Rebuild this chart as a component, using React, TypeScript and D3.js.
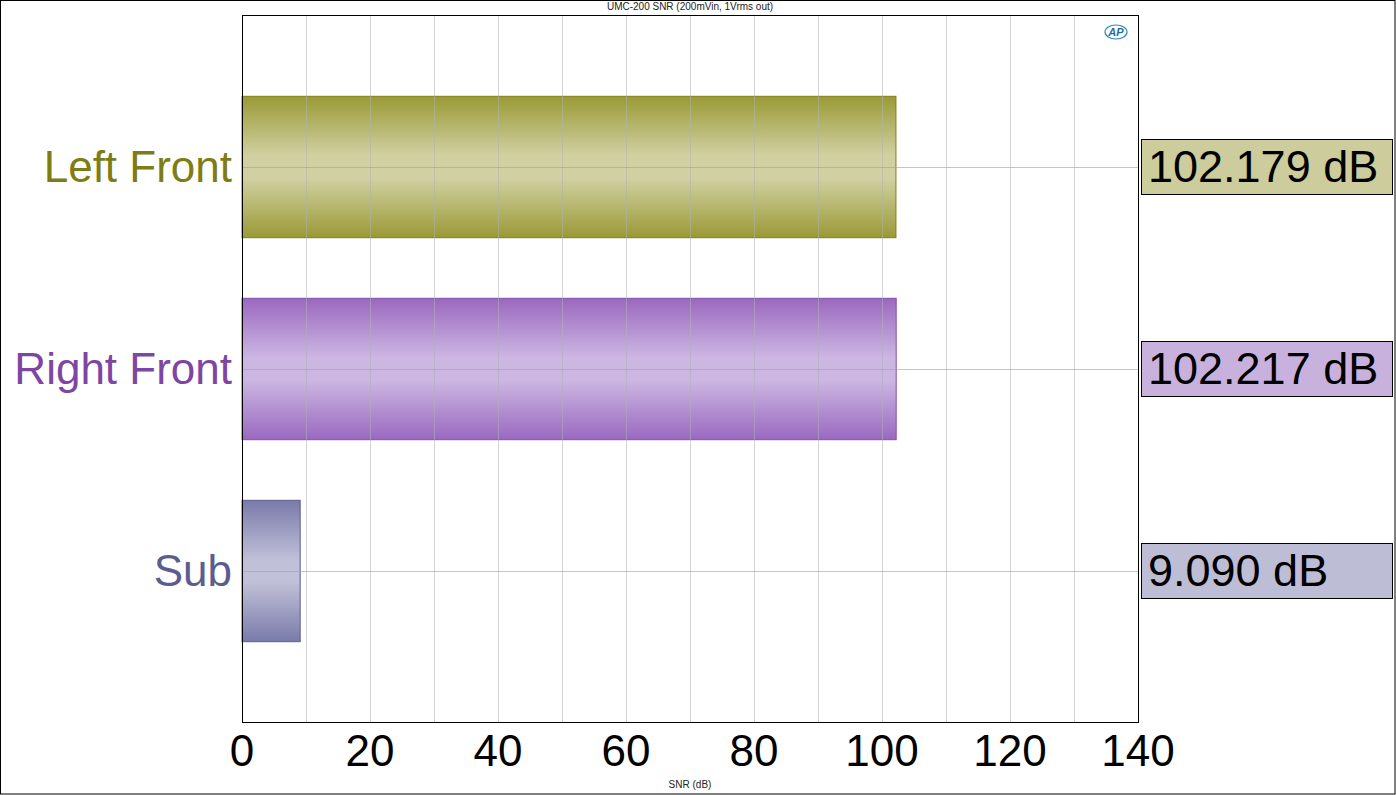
import React from "react";
import * as d3 from "d3";

const categories = ["Left Front", "Right Front", "Sub"];
const values = [102.179, 102.217, 9.09];
const valueLabels = ["102.179 dB", "102.217 dB", "9.090 dB"];
const xTicks = [0, 20, 40, 60, 80, 100, 120, 140];
const minorTicks = [10, 30, 50, 70, 90, 110, 130];
const title = "UMC-200 SNR (200mVin, 1Vrms out)";
const xLabel = "SNR (dB)";

const labelColors = ["#7d7d14", "#7f45a3", "#5c5c8e"];
const edgeColors = ["#9a9a36", "#9a68c0", "#7a7aaa"];
const midColors = ["#d0d0a2", "#ccb6e2", "#c0c0d8"];
const strokeColors = ["#7f7f1a", "#8050a8", "#5e5e8a"];
const boxColors = ["#cccc9c", "#c9b1de", "#bdbdd5"];

export default function App() {
  const W = 1396, H = 795;
  const left = 242, right = 1138, top = 15, bottom = 722;
  const x = d3.scaleLinear().domain([0, 140]).range([left, right]);
  const y = d3.scalePoint<string>().domain(categories).range([167, 571]);
  const barH = y.step() * 0.7;
  const font = "Arial, 'Liberation Sans', sans-serif";
  const big = 44;

  return (
    <svg width={W} height={H} style={{ position: "absolute", left: 0, top: 0, background: "#fff" }} fontFamily={font}>
      <defs>
        {categories.map((c, i) => (
          <linearGradient key={c} id={`g${i}`} x1="0" y1="0" x2="0" y2="1">
            <stop offset="0" stopColor={edgeColors[i]} />
            <stop offset="0.42" stopColor={midColors[i]} />
            <stop offset="0.58" stopColor={midColors[i]} />
            <stop offset="1" stopColor={edgeColors[i]} />
          </linearGradient>
        ))}
      </defs>
      <rect x={0.5} y={0.5} width={W - 1.5} height={H - 1.5} fill="#fff" stroke="#000" />
      <text x={(left + right) / 2} y={10} fontSize={10} textAnchor="middle" fill="#222">{title}</text>

      {categories.map((c, i) => (
        <rect key={c} x={x(0)} y={y(c)! - barH / 2} width={x(values[i]) - x(0)} height={barH}
          fill={`url(#g${i})`} stroke={strokeColors[i]} strokeWidth={1} />
      ))}

      {[...minorTicks, ...xTicks.slice(1, -1)].map((t) => (
        <line key={"v" + t} x1={x(t) + 0.5} x2={x(t) + 0.5} y1={top} y2={bottom}
          stroke="#b0b0b0" strokeOpacity={0.55} />
      ))}
      {categories.map((c) => (
        <line key={"h" + c} x1={left} x2={right} y1={y(c)! + 0.5} y2={y(c)! + 0.5}
          stroke="#a0a0a0" strokeOpacity={0.6} />
      ))}

      <rect x={left + 0.5} y={top + 0.5} width={right - left} height={bottom - top} fill="none" stroke="#000" />

      {categories.map((c, i) => (
        <text key={"l" + c} x={232} y={y(c)! + 15} fontSize={big} textAnchor="end" fill={labelColors[i]}>{c}</text>
      ))}

      {categories.map((c, i) => (
        <g key={"b" + c}>
          <rect x={1141.5} y={y(c)! - 27.5} width={251} height={55} fill={boxColors[i]} stroke="#000" />
          <text x={1148} y={y(c)! + 15} fontSize={big + 1} fill="#000">{valueLabels[i]}</text>
        </g>
      ))}

      {xTicks.map((t) => (
        <text key={"t" + t} x={x(t)} y={766} fontSize={big} textAnchor="middle" fill="#000">{t}</text>
      ))}
      <text x={(left + right) / 2} y={788} fontSize={10} textAnchor="middle" fill="#222">{xLabel}</text>

      <g transform="translate(1116,32)">
        <ellipse cx={0} cy={0} rx={11} ry={7} fill="none" stroke="#2a8ab8" strokeWidth={1.2} />
        <text x={0} y={4} fontSize={11} fontStyle="italic" fontWeight="bold" textAnchor="middle" fill="#1f6f9f">AP</text>
      </g>
    </svg>
  );
}
